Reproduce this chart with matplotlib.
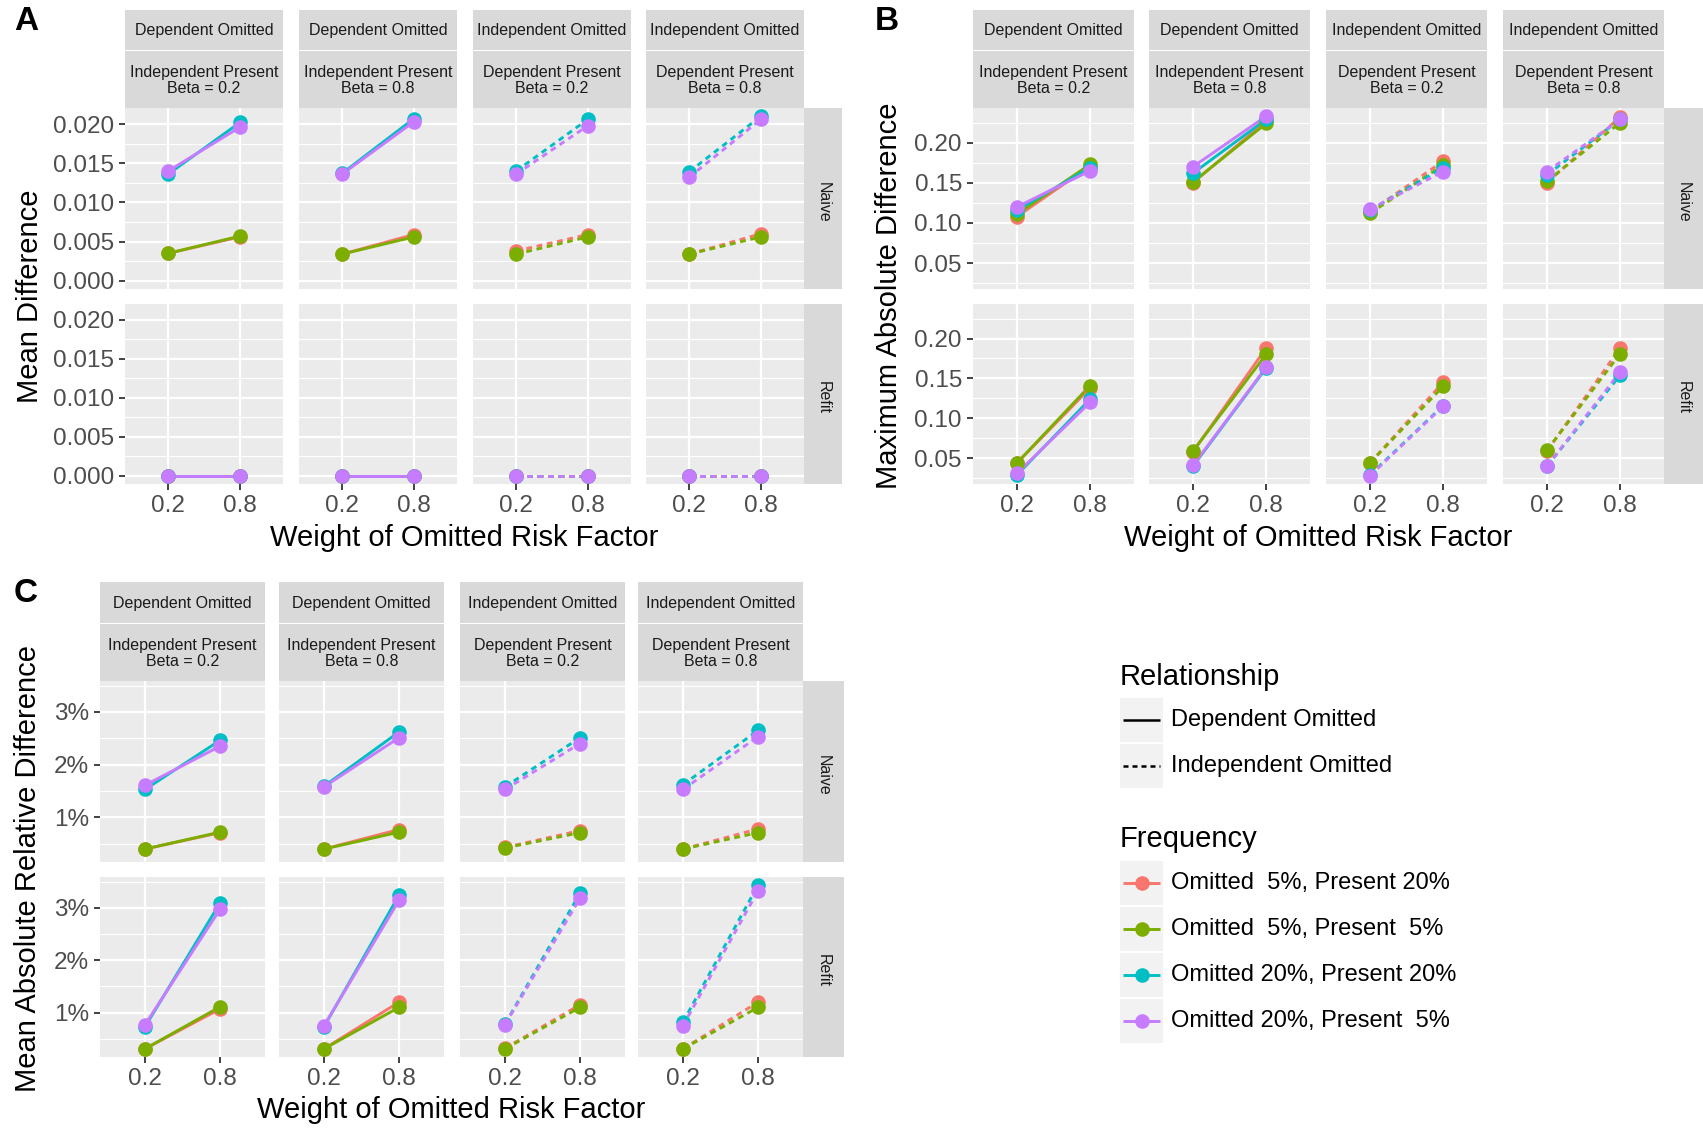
import numpy as np
import matplotlib
matplotlib.use("Agg")
import matplotlib.pyplot as plt
from matplotlib.patches import Rectangle
from matplotlib.ticker import FixedLocator, FormatStrFormatter, PercentFormatter

plt.rcParams['font.family'] = ['Liberation Sans', 'DejaVu Sans']

weights = ["0.2", "0.8"]
methods = ["Naive", "Refit"]
freq_labels = ["Omitted  5%, Present 20%", "Omitted  5%, Present  5%",
               "Omitted 20%, Present 20%", "Omitted 20%, Present  5%"]
freq_colors = ["#F8766D", "#7CAE00", "#00BFC4", "#C77CFF"]
relationships = ["Dependent Omitted", "Independent Omitted"]
facet_top = ["Dependent Omitted", "Dependent Omitted",
             "Independent Omitted", "Independent Omitted"]
facet_sub = ["Independent Present\nBeta = 0.2", "Independent Present\nBeta = 0.8",
             "Dependent Present\nBeta = 0.2", "Dependent Present\nBeta = 0.8"]
facet_rel = [0, 0, 1, 1]

# values per facet column -> per frequency group -> [weight 0.2, weight 0.8]
mean_diff_naive = [
    [[0.0035, 0.0056], [0.0035, 0.0057], [0.0136, 0.0202], [0.0140, 0.0196]],
    [[0.0034, 0.0059], [0.0034, 0.0056], [0.0137, 0.0207], [0.0136, 0.0203]],
    [[0.0038, 0.0059], [0.0034, 0.0056], [0.0140, 0.0206], [0.0136, 0.0198]],
    [[0.0034, 0.0060], [0.0034, 0.0056], [0.0139, 0.0210], [0.0132, 0.0206]],
]
mean_diff_refit = [
    [[0.0, 0.0], [0.0, 0.0], [0.0, 0.0], [0.0, 0.0]],
    [[0.0, 0.0], [0.0, 0.0], [0.0, 0.0], [0.0, 0.0]],
    [[0.0, 0.0], [0.0, 0.0], [0.0, 0.0], [0.0, 0.0]],
    [[0.0, 0.0], [0.0, 0.0], [0.0, 0.0], [0.0, 0.0]],
]
max_diff_naive = [
    [[0.108, 0.171], [0.111, 0.173], [0.116, 0.169], [0.120, 0.165]],
    [[0.150, 0.227], [0.151, 0.224], [0.162, 0.229], [0.170, 0.233]],
    [[0.114, 0.177], [0.112, 0.172], [0.116, 0.169], [0.117, 0.164]],
    [[0.150, 0.232], [0.152, 0.225], [0.160, 0.229], [0.164, 0.229]],
]
max_diff_refit = [
    [[0.044, 0.138], [0.044, 0.141], [0.029, 0.124], [0.031, 0.120]],
    [[0.058, 0.188], [0.059, 0.180], [0.040, 0.163], [0.041, 0.164]],
    [[0.044, 0.145], [0.044, 0.140], [0.029, 0.116], [0.028, 0.115]],
    [[0.059, 0.188], [0.060, 0.181], [0.040, 0.154], [0.040, 0.158]],
]
rel_diff_naive = [
    [[0.0040, 0.0071], [0.0040, 0.0072], [0.0153, 0.0246], [0.0161, 0.0235]],
    [[0.0040, 0.0077], [0.0040, 0.0072], [0.0159, 0.0262], [0.0158, 0.0251]],
    [[0.0043, 0.0075], [0.0042, 0.0071], [0.0158, 0.0251], [0.0153, 0.0240]],
    [[0.0040, 0.0078], [0.0040, 0.0071], [0.0162, 0.0265], [0.0153, 0.0253]],
]
rel_diff_refit = [
    [[0.0031, 0.0107], [0.0031, 0.0111], [0.0073, 0.0309], [0.0077, 0.0297]],
    [[0.0031, 0.0120], [0.0031, 0.0110], [0.0073, 0.0324], [0.0075, 0.0314]],
    [[0.0032, 0.0115], [0.0031, 0.0110], [0.0078, 0.0328], [0.0077, 0.0318]],
    [[0.0031, 0.0120], [0.0031, 0.0110], [0.0082, 0.0343], [0.0075, 0.0332]],
]

W, H = 1703, 1128
fig = plt.figure(figsize=(W / 100, H / 100), dpi=100)

PANEL_BG = '#EBEBEB'
STRIP_BG = '#D9D9D9'
LINE_STYLES = ['-', (0, (2.0, 1.6))]
LW = 2.1
MS = 10.5


def px_axes(x0, y0, x1, y1):
    return fig.add_axes([x0 / W, 1 - y1 / H, (x1 - x0) / W, (y1 - y0) / H])


def strip(x0, y0, x1, y1, text, rotation=0):
    ax = px_axes(x0, y0, x1, y1)
    ax.set_facecolor(STRIP_BG)
    ax.set_xticks([])
    ax.set_yticks([])
    for s in ax.spines.values():
        s.set_visible(False)
    ax.text(0.5, 0.48, text, ha='center', va='center', fontsize=11.5,
            color='#1A1A1A', rotation=rotation, linespacing=1.05,
            transform=ax.transAxes)


def facet_block(letter, letter_xy, rows, col_x, col_w, strip_y, row_y,
                right_w, major, minor, fmt, ylabel, ylabel_x, xlabel_y):
    allv = np.array(rows)
    lo, hi = allv.min(), allv.max()
    pad = 0.05 * (hi - lo)
    ylim = (lo - pad, hi + pad)

    for c, x0 in enumerate(col_x):
        strip(x0, strip_y[0], x0 + col_w, strip_y[1], facet_top[c])
        strip(x0, strip_y[1] + 1, x0 + col_w, strip_y[2], facet_sub[c])

    for r, (y0, y1) in enumerate(row_y):
        for c, x0 in enumerate(col_x):
            ax = px_axes(x0, y0, x0 + col_w, y1)
            ax.set_facecolor(PANEL_BG)
            for s in ax.spines.values():
                s.set_visible(False)
            ax.set_axisbelow(True)
            ax.set_xlim(-0.6, 1.6)
            ax.set_ylim(*ylim)
            ax.set_xticks([0, 1])
            ax.set_xticklabels(weights)
            ax.yaxis.set_major_locator(FixedLocator(major))
            ax.yaxis.set_minor_locator(FixedLocator(minor))
            ax.yaxis.set_major_formatter(fmt)
            ax.grid(which='major', color='white', lw=1.6)
            ax.grid(which='minor', axis='y', color='white', lw=0.8)
            ax.tick_params(which='minor', length=0)
            ax.tick_params(which='major', length=4, width=1.3, color='#333333',
                           labelcolor='#4D4D4D', labelsize=17.5, pad=4)
            if c > 0:
                ax.tick_params(axis='y', length=0, labelleft=False)
            if r < len(row_y) - 1:
                ax.tick_params(axis='x', length=0, labelbottom=False)
            ls = LINE_STYLES[facet_rel[c]]
            vals = rows[r][c]
            for k in range(4):
                ax.plot([0, 1], vals[k], color=freq_colors[k], lw=LW, ls=ls,
                        solid_capstyle='butt', zorder=2)
            for k in range(4):
                ax.plot([0, 1], vals[k], color=freq_colors[k], ls='none',
                        marker='o', ms=MS, mew=0, zorder=3, clip_on=False)
        strip(col_x[-1] + col_w, y0, col_x[-1] + col_w + right_w, y1,
              methods[r], rotation=-90)

    xc = (col_x[0] + col_x[-1] + col_w) / 2
    fig.text(xc / W, 1 - xlabel_y / H, "Weight of Omitted Risk Factor",
             ha='center', va='center', fontsize=21)
    yc = (row_y[0][0] + row_y[-1][1]) / 2
    fig.text(ylabel_x / W, 1 - yc / H, ylabel, ha='center', va='center',
             rotation=90, fontsize=21)
    fig.text(letter_xy[0] / W, 1 - letter_xy[1] / H, letter, ha='center',
             va='center', fontsize=24, fontweight='bold')


# panel A
facet_block("A", (26, 22), [mean_diff_naive, mean_diff_refit],
            [125, 299, 473, 646], 158, (10, 50, 108), [(108, 289), (304, 484)],
            38, [0.0, 0.005, 0.010, 0.015, 0.020],
            [0.0025, 0.0075, 0.0125, 0.0175], FormatStrFormatter('%.3f'),
            "Mean Difference", 30, 538)

# panel B
facet_block("B", (887, 22), [max_diff_naive, max_diff_refit],
            [973, 1149, 1326, 1503], 161, (10, 50, 108), [(108, 289), (304, 484)],
            39, [0.05, 0.10, 0.15, 0.20],
            [0.025, 0.075, 0.125, 0.175, 0.225], FormatStrFormatter('%.2f'),
            "Maximum Absolute Difference", 889, 538)

# panel C
facet_block("C", (26, 594), [rel_diff_naive, rel_diff_refit],
            [100, 279, 460, 638], 165, (582, 623, 681), [(681, 862), (877, 1057)],
            41, [0.01, 0.02, 0.03],
            [0.005, 0.015, 0.025, 0.035], PercentFormatter(1.0, decimals=0),
            "Mean Absolute Relative Difference", 28, 1110)

# shared legend
lg = px_axes(1100, 640, 1470, 1060)
lg.set_xlim(1100, 1470)
lg.set_ylim(1060, 640)
lg.axis('off')

lg.text(1120, 677, "Relationship", fontsize=21, va='center', ha='left')
rel_keys = [698, 744]
for i, y in enumerate(rel_keys):
    lg.add_patch(Rectangle((1120, y), 43, 44, color='#F2F2F2', lw=0))
    lg.plot([1123, 1160], [y + 22, y + 22], color='black', lw=1.8,
            ls=LINE_STYLES[i], solid_capstyle='butt')
    lg.text(1171, y + 22, relationships[i], fontsize=17, va='center', ha='left')

lg.text(1120, 839, "Frequency", fontsize=21, va='center', ha='left')
freq_keys = [861, 907, 953, 999]
for i, y in enumerate(freq_keys):
    lg.add_patch(Rectangle((1120, y), 43, 44, color='#F2F2F2', lw=0))
    lg.plot([1123, 1160], [y + 22, y + 22], color=freq_colors[i], lw=LW,
            solid_capstyle='butt')
    lg.plot([1141.5], [y + 22], color=freq_colors[i], marker='o', ms=MS, mew=0)
    lg.text(1171, y + 22, freq_labels[i], fontsize=17, va='center', ha='left')

fig.savefig("out.png", dpi=100)
